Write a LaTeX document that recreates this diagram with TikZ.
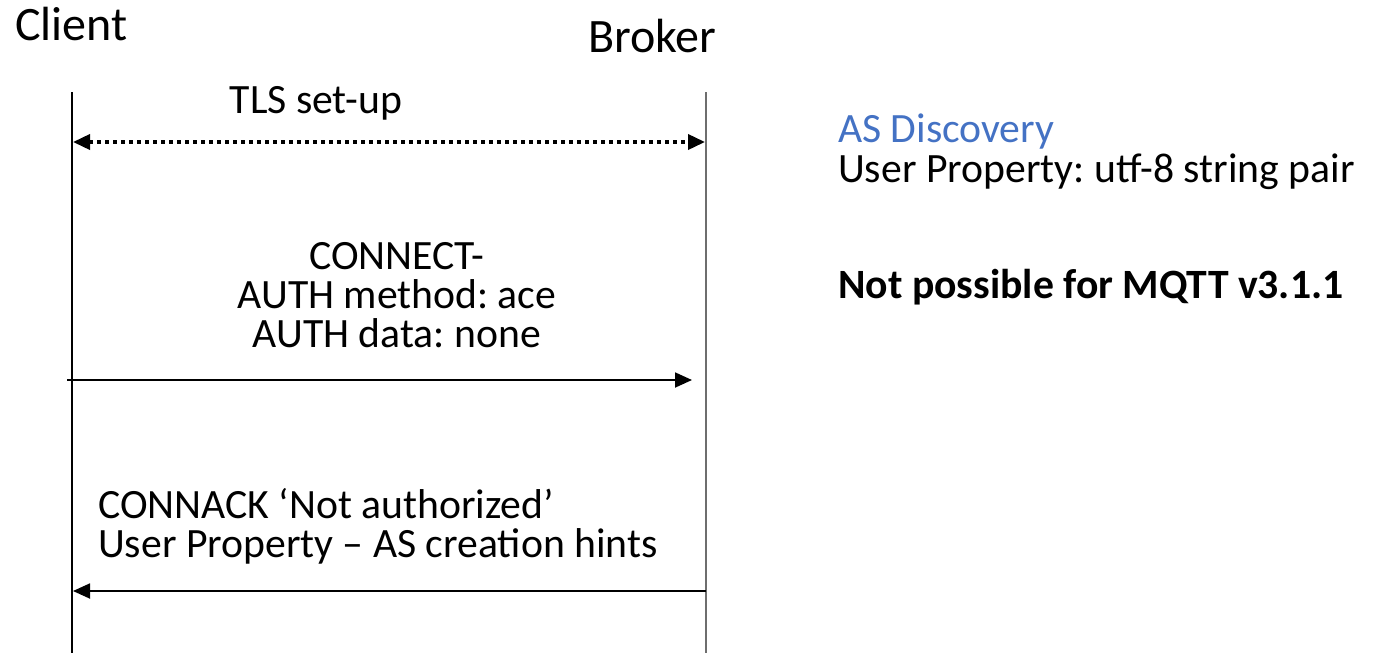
\documentclass[tikz,border=0pt]{standalone}
\usepackage{fontspec}
\setmainfont{Carlito}
\usetikzlibrary{arrows.meta}
\definecolor{accent}{HTML}{4472C4}
\definecolor{lifegray}{HTML}{6E6E6E}
\frenchspacing
\begin{document}
\begin{tikzpicture}[x=1pt,y=-1pt,
  lbl/.style={inner sep=0pt,font=\fontsize{41.7}{39}\selectfont},
  head/.style={inner sep=0pt,font=\fontsize{48}{50}\selectfont},
  lifeline/.style={line width=2.2pt},
  msg/.style={line width=1.8pt,-{Triangle[length=17pt,width=15pt]}},
  tls/.style={line width=3.6pt,dash pattern=on 3.8pt off 4.2pt,
    {Triangle[length=17pt,width=15pt]}-{Triangle[length=17pt,width=15pt]}}]
  \useasboundingbox (0,0) rectangle (1375,653);

  % participants
  \node[head,anchor=base west] (client) at (15,40) {Client};
  \node[head,anchor=base west] (broker) at (588,52) {Broker};

  % lifelines
  \coordinate (cTop) at (72,92);
  \coordinate (cBot) at (72,653);
  \coordinate (bTop) at (706,92);
  \coordinate (bBot) at (706,653);
  \draw[lifeline,black] (cTop) -- (cBot);
  \draw[lifeline,lifegray] (bTop) -- (bBot);

  % TLS handshake
  \coordinate (tlsL) at (73,142);
  \coordinate (tlsR) at (705,142);
  \draw[tls] (tlsL) -- (tlsR);
  \node[lbl,anchor=base] (tlslbl) at (316,113) {TLS set-up};

  % CONNECT
  \coordinate (conL) at (67,380);
  \coordinate (conR) at (692,380);
  \draw[msg] (conL) -- (conR);
  \node[lbl,anchor=base] (con1) at (397,269) {CONNECT-};
  \node[lbl,anchor=base] (con2) at (397,308) {AUTH method: ace};
  \node[lbl,anchor=base] (con3) at (397,347) {AUTH data: none};

  % CONNACK
  \coordinate (ackR) at (706,591);
  \coordinate (ackL) at (73,591);
  \draw[msg] (ackR) -- (ackL);
  \node[lbl,anchor=base west] (ack1) at (98,518) {CONNACK ‘Not authorized’};
  \node[lbl,anchor=base west] (ack2) at (98,557) {User Property – AS creation hints};

  % side notes
  \node[lbl,anchor=base west,text=accent] (asd) at (838,142) {AS Discovery};
  \node[lbl,anchor=base west] (upr) at (838,182) {User Property: utf-8 string pair};
  \node[lbl,anchor=base west,font=\fontsize{41.7}{39}\selectfont\bfseries] (nposs) at (838,298) {Not possible for MQTT v3.1.1};
\end{tikzpicture}
\end{document}
